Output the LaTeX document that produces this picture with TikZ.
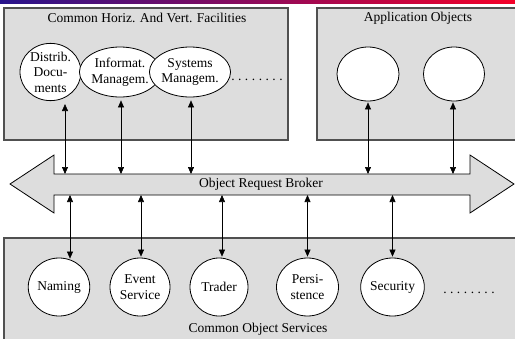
\documentclass[tikz,border=0pt]{standalone}
\usepackage{fontspec}
\setmainfont{Liberation Serif}
\usetikzlibrary{shapes.geometric,arrows.meta}
\definecolor{panel}{HTML}{DDDDDD}
\definecolor{frame}{HTML}{505050}
\definecolor{barleft}{RGB}{40,20,140}
\definecolor{barright}{RGB}{245,0,40}
\newcommand\dotrun{.\hspace{3.5pt}.\hspace{3.5pt}.\hspace{3.5pt}.\hspace{3.5pt}.\hspace{3.5pt}.\hspace{3.5pt}.\hspace{3.5pt}.}
\begin{document}
\begin{tikzpicture}[x=1pt,y=-1pt,
  panelbox/.style={draw=frame,line width=1.2pt,fill=panel},
  comp/.style={ellipse,draw,line width=0.8pt,fill=white,inner sep=0pt,
    align=center,font=\fontsize{13.5}{15.5}\selectfont},
  link/.style={line width=0.6pt,
    {Triangle[width=6pt,length=7pt]}-{Triangle[width=6pt,length=7pt]}},
  lbl/.style={font=\fontsize{13.5}{15}\selectfont,inner sep=0pt}
]
\useasboundingbox (0,0) rectangle (515,338);
\clip (0,0) rectangle (515,338);

% header stripe
\shade[left color=barleft,right color=barright] (0,0) rectangle (515,3.5);

% panels
\draw[panelbox] (4,8) rectangle (288,140);
\draw[panelbox] (317,8) rectangle (525,140);
\draw[panelbox] (4,238) rectangle (525,345);

\node[lbl] (fac) at (147,18) {Common Horiz. And Vert. Facilities};
\node[lbl] (app) at (418,18) {Application Objects};
\node[lbl] (cos) at (258,329) {Common Object Services};

% object request broker (double arrow)
\draw[fill=panel,line width=0.8pt]
  (10,184) -- (54,155) -- (54,174) -- (470,174) -- (470,155) -- (514,184)
  -- (470,213) -- (470,195) -- (54,195) -- (54,213) -- cycle;
\coordinate (orbN) at (0,174);
\coordinate (orbS) at (0,195);
\node[lbl] (orb) at (261,184) {Object Request Broker};

% facilities
\node[comp,minimum width=61pt,minimum height=50pt] (dd) at (50.5,72) {Distrib.\\Docu-\\ments};
\node[comp,minimum width=60pt,minimum height=50pt] (im) at (120,72) {Informat.\\Managem.};
\node[comp,minimum width=66pt,minimum height=50pt] (sm) at (190,72) {Systems\\Managem.};
\node[lbl] (fdots) at (257,80) {\dotrun};

% application objects
\node[comp,minimum width=62pt,minimum height=54pt] (ao1) at (368,74) {};
\node[comp,minimum width=61pt,minimum height=54pt] (ao2) at (454,74) {};

% object services
\node[comp,minimum width=59pt,minimum height=58pt] (nam) at (59,287) {Naming};
\node[comp,minimum width=60pt,minimum height=58pt] (evs) at (140,287) {Event\\Service};
\node[comp,minimum width=58pt,minimum height=58pt] (trd) at (219,287) {Trader};
\node[comp,minimum width=62pt,minimum height=58pt] (per) at (307.5,287) {Persi-\\stence};
\node[comp,minimum width=62pt,minimum height=58pt] (sec) at (392.5,287) {Security};
\node[lbl] (sdots) at (469,293) {\dotrun};

% connectors to the broker
\draw[link] ([xshift=14.5pt,yshift=-3pt]dd.south) -- ([xshift=14.5pt]dd.south |- orbN);
\draw[link] ([xshift=1pt,yshift=-3pt]im.south) -- ([xshift=1pt]im.south |- orbN);
\draw[link] ([xshift=1pt,yshift=-3pt]sm.south) -- ([xshift=1pt]sm.south |- orbN);
\draw[link] ([yshift=-1pt]ao1.south) -- (ao1.south |- orbN);
\draw[link] ([xshift=-1pt,yshift=-1pt]ao2.south) -- ([xshift=-1pt]ao2.south |- orbN);

\draw[link] ([xshift=11pt]nam.north |- orbS) -- ([xshift=11pt,yshift=-1pt]nam.north);
\draw[link] ([xshift=1pt]evs.north |- orbS) -- ([xshift=1pt,yshift=1pt]evs.north);
\draw[link] ([xshift=3pt]trd.north |- orbS) -- ([xshift=3pt,yshift=1pt]trd.north);
\draw[link] (per.north |- orbS) -- ([yshift=1pt]per.north);
\draw[link] (sec.north |- orbS) -- ([yshift=1pt]sec.north);
\end{tikzpicture}
\end{document}
